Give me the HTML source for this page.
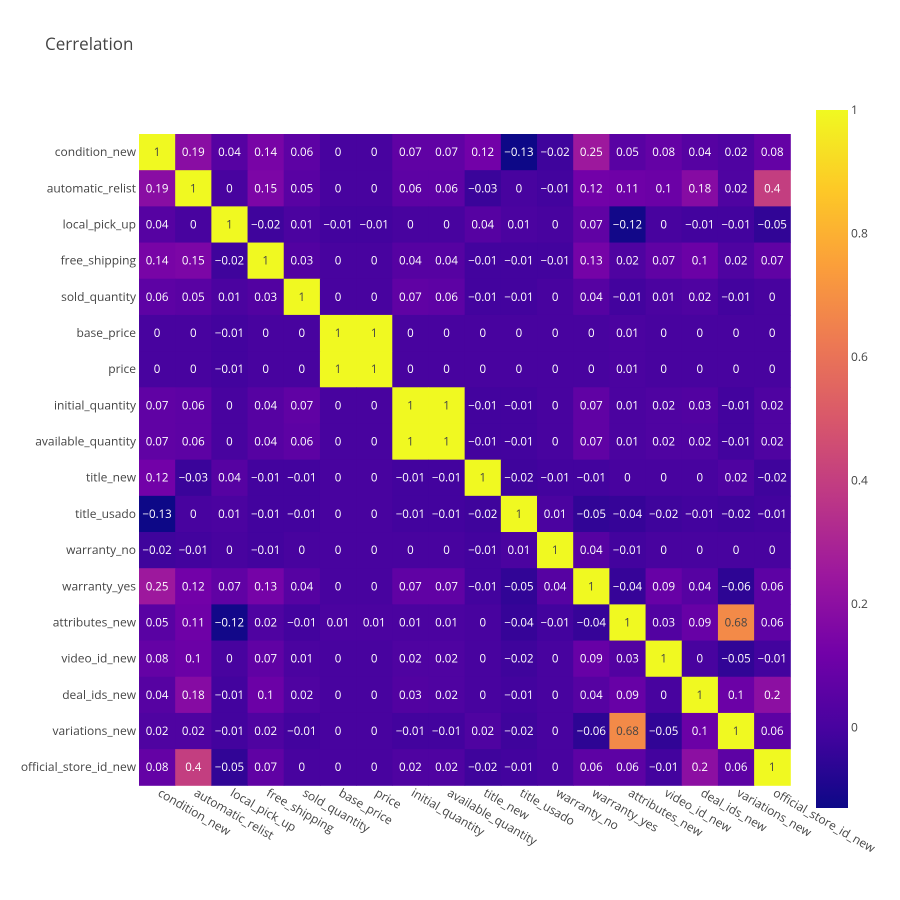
<!DOCTYPE html>
<html><head><meta charset="utf-8"><style>
html,body{margin:0;padding:0;background:#fff;}
svg{display:block;font-family:"Open Sans","Liberation Sans",Arial,sans-serif;}
</style></head><body>
<svg id="chart" width="900" height="900"></svg>
<script>
const labels=["condition_new","automatic_relist","local_pick_up","free_shipping","sold_quantity","base_price","price","initial_quantity","available_quantity","title_new","title_usado","warranty_no","warranty_yes","attributes_new","video_id_new","deal_ids_new","variations_new","official_store_id_new"];
const z=[
[1,0.19,0.04,0.14,0.06,0,0,0.07,0.07,0.12,-0.13,-0.02,0.25,0.05,0.08,0.04,0.02,0.08],
[0.19,1,0,0.15,0.05,0,0,0.06,0.06,-0.03,0,-0.01,0.12,0.11,0.1,0.18,0.02,0.4],
[0.04,0,1,-0.02,0.01,-0.01,-0.01,0,0,0.04,0.01,0,0.07,-0.12,0,-0.01,-0.01,-0.05],
[0.14,0.15,-0.02,1,0.03,0,0,0.04,0.04,-0.01,-0.01,-0.01,0.13,0.02,0.07,0.1,0.02,0.07],
[0.06,0.05,0.01,0.03,1,0,0,0.07,0.06,-0.01,-0.01,0,0.04,-0.01,0.01,0.02,-0.01,0],
[0,0,-0.01,0,0,1,1,0,0,0,0,0,0,0.01,0,0,0,0],
[0,0,-0.01,0,0,1,1,0,0,0,0,0,0,0.01,0,0,0,0],
[0.07,0.06,0,0.04,0.07,0,0,1,1,-0.01,-0.01,0,0.07,0.01,0.02,0.03,-0.01,0.02],
[0.07,0.06,0,0.04,0.06,0,0,1,1,-0.01,-0.01,0,0.07,0.01,0.02,0.02,-0.01,0.02],
[0.12,-0.03,0.04,-0.01,-0.01,0,0,-0.01,-0.01,1,-0.02,-0.01,-0.01,0,0,0,0.02,-0.02],
[-0.13,0,0.01,-0.01,-0.01,0,0,-0.01,-0.01,-0.02,1,0.01,-0.05,-0.04,-0.02,-0.01,-0.02,-0.01],
[-0.02,-0.01,0,-0.01,0,0,0,0,0,-0.01,0.01,1,0.04,-0.01,0,0,0,0],
[0.25,0.12,0.07,0.13,0.04,0,0,0.07,0.07,-0.01,-0.05,0.04,1,-0.04,0.09,0.04,-0.06,0.06],
[0.05,0.11,-0.12,0.02,-0.01,0.01,0.01,0.01,0.01,0,-0.04,-0.01,-0.04,1,0.03,0.09,0.68,0.06],
[0.08,0.1,0,0.07,0.01,0,0,0.02,0.02,0,-0.02,0,0.09,0.03,1,0,-0.05,-0.01],
[0.04,0.18,-0.01,0.1,0.02,0,0,0.03,0.02,0,-0.01,0,0.04,0.09,0,1,0.1,0.2],
[0.02,0.02,-0.01,0.02,-0.01,0,0,-0.01,-0.01,0.02,-0.02,0,-0.06,0.68,-0.05,0.1,1,0.06],
[0.08,0.4,-0.05,0.07,0,0,0,0.02,0.02,-0.02,-0.01,0,0.06,0.06,-0.01,0.2,0.06,1]];
const cbTicks=[0,0.2,0.4,0.6,0.8,1];
const zmin=-0.13, zmax=1;
const plasma=['#0d0887','#46039f','#7201a8','#9c179e','#bd3786','#d8576b','#ed7953','#fb9f3a','#fdca26','#f0f921'];
const NS="http://www.w3.org/2000/svg";
const svg=document.getElementById('chart');
const X0=139,X1=790.3,Y0=134,Y1=785.3,n=labels.length,cw=(X1-X0)/n,ch=(Y1-Y0)/n;
const xPos=i=>X0+i*cw, yPos=i=>Y0+i*ch;
function hex(h){return [1,3,5].map(k=>parseInt(h.substr(k,2),16));}
function color(v){let t=(v-zmin)/(zmax-zmin);t=Math.max(0,Math.min(1,t))*(plasma.length-1);const i=Math.min(Math.floor(t),plasma.length-2),f=t-i;const a=hex(plasma[i]),b=hex(plasma[i+1]);return 'rgb('+a.map((c,k)=>Math.round(c+(b[k]-c)*f)).join(',')+')';}
function el(tag,attrs,txt){const e=document.createElementNS(NS,tag);for(const k in attrs)e.setAttribute(k,attrs[k]);if(txt!==undefined)e.textContent=txt;svg.appendChild(e);return e;}
const fmt=v=>String(v).replace('-','\u2212');
const title=el('text',{x:45,y:50,'font-size':17,fill:'#444'},'Cerrelation');


for(let r=0;r<n;r++)for(let c=0;c<n;c++){
 const v=z[r][c];
 const rect=el('rect',{x:xPos(c),y:yPos(r),width:cw+0.5,height:ch+0.5,fill:color(v)});
 
 
 const t=el('text',{x:xPos(c)+cw/2,y:yPos(r)+ch/2+4,'text-anchor':'middle','font-size':11.5,fill:(v-zmin)/(zmax-zmin)>0.6?'#444':'#fff'},fmt(v));
 
 
}
labels.forEach((l,i)=>{
 const t=el('text',{x:X0-3,y:yPos(i)+ch/2+4,'text-anchor':'end','font-size':12,fill:'#444'},l);
 
 
 const cx=xPos(i)+cw/2, cy=Y1+10;
 const tx=el('text',{x:cx,y:cy,'font-size':12,fill:'#444',transform:'rotate(30 '+cx+' '+cy+')'},l);
 
 
});
const CBX=816,CBW=32,CBT=110,CBB=808;
const defs=el('defs',{});
const g=document.createElementNS(NS,'linearGradient');g.setAttribute('id','cbg');g.setAttribute('x1','0');g.setAttribute('y1','1');g.setAttribute('x2','0');g.setAttribute('y2','0');
plasma.forEach((c,i)=>{const s=document.createElementNS(NS,'stop');s.setAttribute('offset',i/(plasma.length-1));s.setAttribute('stop-color',c);g.appendChild(s);});
defs.appendChild(g);
const cb=el('rect',{x:CBX,y:CBT,width:CBW,height:CBB-CBT,fill:'url(#cbg)'});


const cbY=v=>CBB-(v-zmin)/(zmax-zmin)*(CBB-CBT);
cbTicks.forEach(v=>{
 const t=el('text',{x:CBX+CBW+3,y:cbY(v)+4,'font-size':12,fill:'#444'},String(v));
 
 
});
</script>
</body></html>
